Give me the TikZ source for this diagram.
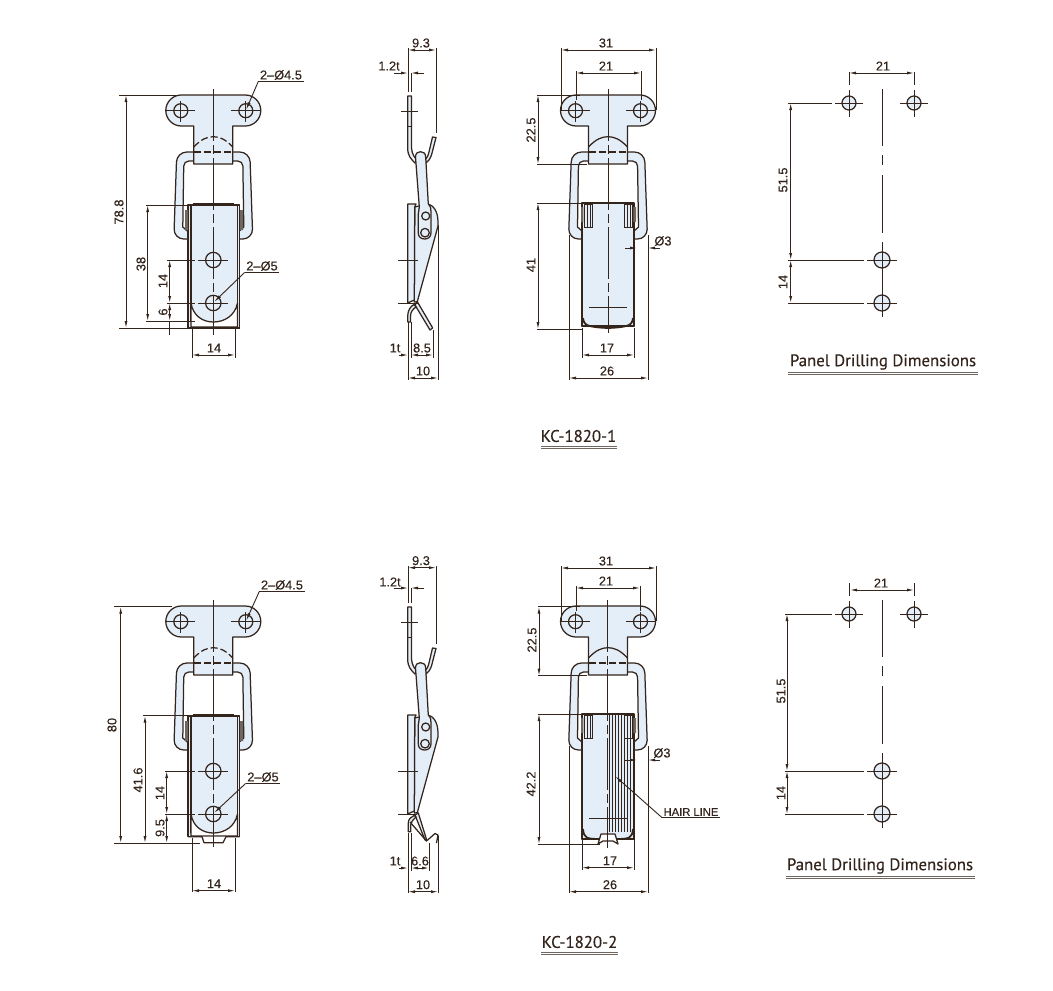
\documentclass[tikz,border=0pt]{standalone}
\usepackage{fontspec}
\setmainfont{Liberation Sans}
\newfontfamily\dimfont[FakeBold=0.25]{Liberation Sans}
\newfontfamily\titlefont[FakeBold=0.35]{PT Sans}
\usetikzlibrary{arrows.meta}
\definecolor{ink}{HTML}{33241C}
\definecolor{steel}{HTML}{E4EEF9}
\tikzset{
  part/.style={draw=ink,fill=steel,line width=1.25pt,line join=round},
  outline/.style={draw=ink,line width=1.25pt,line join=round},
  hollow/.style={draw=ink,fill=white,line width=1.25pt},
  thinline/.style={draw=ink,line width=.9pt},
  centerline/.style={draw=ink,line width=1pt,dash pattern=on 52pt off 4pt on 9pt off 4pt},
  dimline/.style={draw=ink,line width=.9pt,<->,>={Latex[length=7pt,width=3pt]}},
  leader/.style={draw=ink,line width=.9pt,->,>={Latex[length=8pt,width=3pt]}},
  dimtext/.style={text=ink,font=\dimfont\fontsize{12.8}{13}\selectfont,inner sep=1.5pt},
  vdimtext/.style={dimtext,rotate=90},
  titletext/.style={text=ink,font=\titlefont\fontsize{16.8}{17}\selectfont,inner sep=3pt},
}
% top plate and bail, seen from the front
\newcommand{\hasp}[2]{
  \begin{scope}[shift={(#1,0)}]
    \path[part] (-26,239) [rounded corners=10pt] -- (-39.5,239) -- (-36.5,152) -- (36.5,152) -- (39.5,239) [sharp corners] -- (26,239) -- cycle;
    \path[hollow] (-26,231) -- (-30.5,227) [rounded corners=5pt] -- (-29.5,161) -- (29.5,161) [sharp corners] -- (30.5,227) -- (26,231) -- cycle;
    \path[part] (0,95) [rounded corners=15.5pt] -- (-47.5,95) -- (-47.5,126) [sharp corners] -- (-19.5,126) -- (-19.5,164) -- (19.5,164) -- (19.5,126) [rounded corners=15.5pt] -- (47.5,126) -- (47.5,95) [sharp corners] -- cycle;
    \draw[outline,dashed,dash pattern=on 7pt off 3pt] (-19.5,152) -- (19.5,152);
    \draw[outline,#2] (-19.5,147) .. controls (-12,139) and (-6,136.7) .. (0,136.7) .. controls (6,136.7) and (12,139) .. (19.5,147);
    \draw[part] (-32.5,110.7) circle (7pt) (32.5,110.7) circle (7pt);
    \draw[thinline] (-47,110.7) -- (-18,110.7) (-32.5,101) -- (-32.5,122) (18,110.7) -- (47,110.7) (32.5,101) -- (32.5,122);
  \end{scope}
}
% the two body holes of the left view
\newcommand{\bodyholes}{
  \draw[part] (213.3,260) circle (7.7pt) (213.3,303) circle (7.7pt);
  \draw[thinline] (198,260) -- (228,260) (198,303) -- (228,303);
}
% link and upper part of the side view
\newcommand{\sidetop}{
  \path[part] (407.7,96) -- (411.5,96) -- (411.5,148) .. controls (412,155) and (415,158) .. (417.5,160) -- (415,163) .. controls (411,159) and (407.7,156) .. (407.7,148) -- cycle;
  \draw[thinline] (407.7,126.5) -- (411.5,126.5) (401,111) -- (418,111);
  \path[part] (432.5,137) -- (436,137.5) -- (431.5,155) .. controls (430,159) and (428.5,161) .. (426,163) -- (425,160) .. controls (427,158) and (428,156) .. (429,152) -- cycle;
  \path[part] (414.7,207) -- (428,204) .. controls (433,205) and (438,211) .. (438,222) -- (438,226) -- (417.3,301.7) -- (414.3,302) -- cycle;
  \path[part] (407.7,204) -- (416,204) -- (414.7,207) -- (414.3,300) -- (407.7,303) -- cycle;
  \path[part] (415.5,157) .. controls (415.5,153) and (418,151.7) .. (420.5,151.7) .. controls (423,151.7) and (425.7,153) .. (425.7,157) -- (428.3,204) .. controls (431,207) and (431,209) .. (431,212) -- (431,233) .. controls (431,237) and (428,239) .. (424.7,239) .. controls (421,239) and (418.3,237) .. (418.3,233) -- (418.3,214) -- (419.3,207) -- cycle;
  \draw[part] (425.7,216) circle (4pt) (425,232.7) circle (4.3pt);
  \draw[thinline] (398,260) -- (418,260) (398,303) -- (418,303);
}
\begin{document}
\begin{tikzpicture}[x=1pt,y=-1pt]
  \useasboundingbox (0,0) rectangle (1053,991);

  %% KC-1820-1, left view
  \hasp{213.3}{dashed,dash pattern=on 7pt off 3pt}
  \path[part] (188,205) rectangle (239.5,328);
  \draw[outline] (191,205) -- (191,322) (237.5,205) -- (237.5,322) (193,203.5) -- (234,203.5);
  \path[outline,fill=white] (191,303) .. controls (193,316) and (203,322) .. (213.3,322) .. controls (224,322) and (235,316) .. (237.5,303) -- (237.5,327) -- (191,327) -- cycle;
  \draw[ink,line width=1.8pt] (188,328) -- (239.5,328);
  \path[fill=ink!70] (185,210) rectangle (188,230) (240,210) rectangle (243,230);
  \bodyholes
  \draw[centerline] (213.3,89) -- (213.3,335);

  %% KC-1820-1, side view
  \begin{scope}
    \path[part] (417.3,301.7) -- (432.7,328) -- (430,330) -- (415,305) -- cycle;
    \path[part] (414,304.5) .. controls (411,306) and (407.7,310) .. (407.7,316) -- (407.7,322) -- (410.5,322) -- (410.5,316) .. controls (410.5,312) and (413,309) .. (416,307) -- cycle;
    \sidetop
  \end{scope}

  %% KC-1820-1, front view
  \path[part] (582,203) rectangle (634,326);
  \hasp{608}{}
  \path[part] (582,203) rectangle (634,326);
  \draw[ink,line width=1.8pt] (583,318) .. controls (584,325) and (586,327) .. (608,328) .. controls (630,327) and (632,325) .. (633,318);
  \foreach \xa/\xb in {584/592.7,624/632.7}
    \draw[thinline,fill=steel] (\xa,204) rectangle (\xb,227) (\xa+3,204) -- (\xa+3,227) (\xa+6,204) -- (\xa+6,227);
  \path[fill=ink!70] (581,207) rectangle (583.3,222) (633.3,207) rectangle (636,222);
  \draw[thinline] (589,307) -- (627,307);
  \draw[centerline] (608,89) -- (608,333);

  %% KC-1820-2, same plate and body moved down
  \begin{scope}[shift={(0,511)}]
    \hasp{213.3}{dashed,dash pattern=on 7pt off 3pt}
    \path[part] (188,205) rectangle (239.5,325.7);
    \draw[outline] (191,205) -- (191,322) (237.5,205) -- (237.5,322) (193,203.5) -- (234,203.5);
    \path[outline,fill=white] (191,303) .. controls (193,316) and (203,322) .. (213.3,322) .. controls (224,322) and (235,316) .. (237.5,303) -- (237.5,325) -- (191,325) -- cycle;
    \path[outline,fill=white] (188,325.7) -- (202,325.7) -- (204,331.7) -- (223,331.7) -- (226,325.7) -- (239.5,325.7);
    \path[fill=ink!70] (185,210) rectangle (188,230) (240,210) rectangle (243,230);
    \bodyholes
    \draw[centerline] (213.3,89) -- (213.3,336);
    \sidetop
    \path[part] (415,304) -- (418.3,302) -- (426.7,329) -- (425,329) -- cycle;
    \path[part] (414,304.5) .. controls (411,306) and (408.3,308) .. (408.3,312) -- (408.3,320.7) -- (410.7,320.7) -- (410.7,314) .. controls (410.7,311) and (413,309) .. (416,306) -- cycle;
    \draw[outline] (410,311) -- (426.5,330) -- (435,322.5) -- (438,324) -- (436.5,332);
    \path[part] (582,203) rectangle (634,328);
    \hasp{608}{}
    \path[part] (582,203) rectangle (634,328);
    \foreach \hx in {609,612,...,634}
      \draw[ink,line width=.7pt] (\hx,203) -- (\hx,321);
    \foreach \xa/\xb in {584/592.7,624/632.7}
      \draw[thinline,fill=steel] (\xa,204) rectangle (\xb,227) (\xa+3,204) -- (\xa+3,227) (\xa+6,204) -- (\xa+6,227);
    \path[fill=ink!70] (581,207) rectangle (583.3,222) (633.3,207) rectangle (636,222);
    \draw[thinline] (589,307) -- (627,307);
    \draw[ink,line width=1.8pt] (583,318) .. controls (584,327) and (586,328) .. (600,328);
    \draw[ink,line width=1.8pt] (616,328) .. controls (630,328) and (632,327) .. (633,318);
    \draw[outline,fill=white] (598,333) -- (601,323) -- (615,323) -- (618,333) -- (613,330) -- (603,330) -- cycle;
    \draw[centerline] (607.7,89) -- (607.7,337);
  \end{scope}

  %% panel drilling, both rows
  \foreach \dy/\ex in {0/788,511/785}{
    \foreach \hx/\hy/\hr in {849/103/7,914/103/7,882/260/8,882/303/8}
      \draw[part] (\hx,\hy+\dy) circle (\hr pt);
    \foreach \hx/\hy in {849/103,914/103}
      \draw[thinline] (\hx-14,\hy+\dy) -- (\hx+14,\hy+\dy) (\hx,\hy+\dy-13) -- (\hx,\hy+\dy+14) (\hx,\hy+\dy-18) -- (\hx,\hy+\dy-31);
    \foreach \hy/\lx in {260/864,303/864}
      \draw[thinline] (\ex,\hy+\dy) -- (\lx,\hy+\dy) (867,\hy+\dy) -- (897,\hy+\dy);
    \draw[thinline] (\ex,103+\dy) -- (832,103+\dy);
    \draw[draw=ink,line width=1pt] (882,89+\dy) -- (882,146+\dy) (882,155+\dy) -- (882,165+\dy) (882,175+\dy) -- (882,233+\dy) (882,242+\dy) -- (882,317+\dy);
  }

  %% horizontal dimensions: x from / x to / y / label x / label
  \foreach \xa/\xb/\yy/\lx/\lbl [count=\i] in {192/235/355/214/14,408/436/50/421/9.3,411/433/355/422/8.5,408/438/378/423/10,
      561/656/50/606/31,576/641/73/606/21,582/634/355/607/17,569/648/378/607/26,849/914/73/883/21,
      192/235/890.7/214/14,408/436/567.7/421/9.3,411/429/868/420/6.6,408/438/891.7/423/10,
      561/656/568/606/31,576/640/588/606/21,582/634/867.7/610/17,569/648/891.7/610/26,850/914/590/881/21}{
    \draw[dimline] (\xa,\yy) -- (\xb,\yy);
    \node[dimtext] (hdim\i) at (\lx,\yy-7) {\lbl};
  }
  %% vertical dimensions: y from / y to / x / label x / label y / label
  \foreach \ya/\yb/\xx/\lx/\ly/\lbl [count=\i] in {95/328/126/119/212/78.8,205/321/147.7/141/264/38,260/303/169.7/163/281/14,
      95/164/538/531/130/22.5,203/329/538/531/265/41,103/260/790.7/783/180/51.5,260/303/790.7/783/282/14,
      606.7/843/120.7/112/725/80,715.7/843/145/138/780/41.6,771/814/166.7/160/793/14,
      606.7/675.7/539/532/640/22.5,714/844/539/531/784/42.2,614/771/787/781/691/51.5,771/814/787/781/793/14}{
    \draw[dimline] (\xx,\ya) -- (\xx,\yb);
    \node[vdimtext] (vdim\i) at (\lx,\ly) {\lbl};
  }
  \node[vdimtext] (vsix) at (163,312) {6};
  \node[vdimtext] (vnine) at (160,828) {9.5};
  \draw[dimline] (169.7,303) -- (169.7,321);
  \draw[dimline] (166.7,814) -- (166.7,843);
  \draw[thinline] (169.7,321) -- (169.7,335);

  %% extension lines
  \foreach \xa/\ya/\xb/\yb in {119/95/178/95,119/328/190/328,146/205/190/205,146/321/195/321,167/260/195/260,167/303/195/303,
      192/328/192/358,235/328/235/358,408/48/408/92,436/48/436/133,411/73/411/92,408/322/408/380,411/322/411/358,433/330/433/358,438/225/438/380,
      561/48/561/110,656/48/656/110,576/71/576/100,641/71/641/100,537/95/580/95,537/164/587/164,537/203/630/203,537/329/583/329,
      582/328/582/358,634/328/634/358,569/235/569/380,648/235/648/380,
      114/606.7/172/606.7,114/843/200/843,143/715.7/190/715.7,165/771/195/771,165/814/195/814,
      192/838/192/892,235/838/235/892,408/566/408/603,436/566/436/644,411/588/411/603,408/833/408/893,411/833/411/871,429/843/429/871,438/836/438/893,
      561/566/561/621,656/566/656/621,576/586/576/611,640/586/640/611,538/606.7/580/606.7,538/675.7/587/675.7,538/714/625/714,538/844/600/844,
      582/839/582/870,634/839/634/870,569/746/569/893,648/746/648/893}
    \draw[thinline] (\xa,\ya) -- (\xb,\yb);
  %% thickness and pin dimensions
  \draw[dimline,<-] (408,73) -- (394,73);
  \draw[dimline,<-] (411,73) -- (424,73);
  \node[dimtext] (thickA) at (389,66) {1.2t};
  \draw[dimline,<-] (408,355) -- (399,355);
  \node[dimtext] (plateA) at (395,348) {1t};
  \draw[dimline,<-] (408,588) -- (394,588);
  \draw[dimline,<-] (411,588) -- (424,588);
  \node[dimtext] (thickB) at (390,582) {1.2t};
  \draw[dimline,<-] (408,868) -- (399,868);
  \node[dimtext] (plateB) at (395,861) {1t};
  \draw[dimline,<-] (637,248) -- (625,248);
  \draw[dimline,<-] (648,248) -- (660,248);
  \node[dimtext] (pinA) at (663,241) {Ø3};
  \draw[dimline,<-] (637,760) -- (625,760);
  \draw[dimline,<-] (648,760) -- (660,760);
  \node[dimtext] (pinB) at (662,753) {Ø3};

  %% callouts with a leader
  \coordinate (holeA) at (246,110);
  \coordinate (holeB) at (214,302);
  \coordinate (holeC) at (246,621);
  \coordinate (holeD) at (214,813);
  \coordinate (hair) at (615,776);
  \node[dimtext] (calloutA) at (281,75) {2–Ø4.5};
  \node[dimtext] (calloutB) at (262,266) {2–Ø5};
  \node[dimtext] (calloutC) at (282,585) {2–Ø4.5};
  \node[dimtext] (calloutD) at (263,777) {2–Ø5};
  \node[dimtext,font=\dimfont\fontsize{11.2}{12}\selectfont] (calloutE) at (691,812) {HAIR LINE};
  \foreach \from/\to in {calloutA/holeA,calloutB/holeB,calloutC/holeC,calloutD/holeD,calloutE/hair}{
    \draw[thinline] (\from.south west) -- (\from.south east);
    \draw[leader] (\from.south west) -- (\to);
  }

  %% titles
  \foreach \tx/\ty/\xa/\xb/\nm/\lbl in {883/362/788/978/panelA/Panel Drilling Dimensions,880/866/786/975/panelB/Panel Drilling Dimensions,
      578.5/436/541/617/modelA/KC-1820-1,579.5/942/541/618/modelB/KC-1820-2}{
    \node[titletext] (\nm) at (\tx,\ty) {\lbl};
    \draw[draw=ink!70,line width=.7pt] (\xa,\ty+10.5) -- (\xb,\ty+10.5) (\xa,\ty+12.5) -- (\xb,\ty+12.5);
  }
\end{tikzpicture}
\end{document}
